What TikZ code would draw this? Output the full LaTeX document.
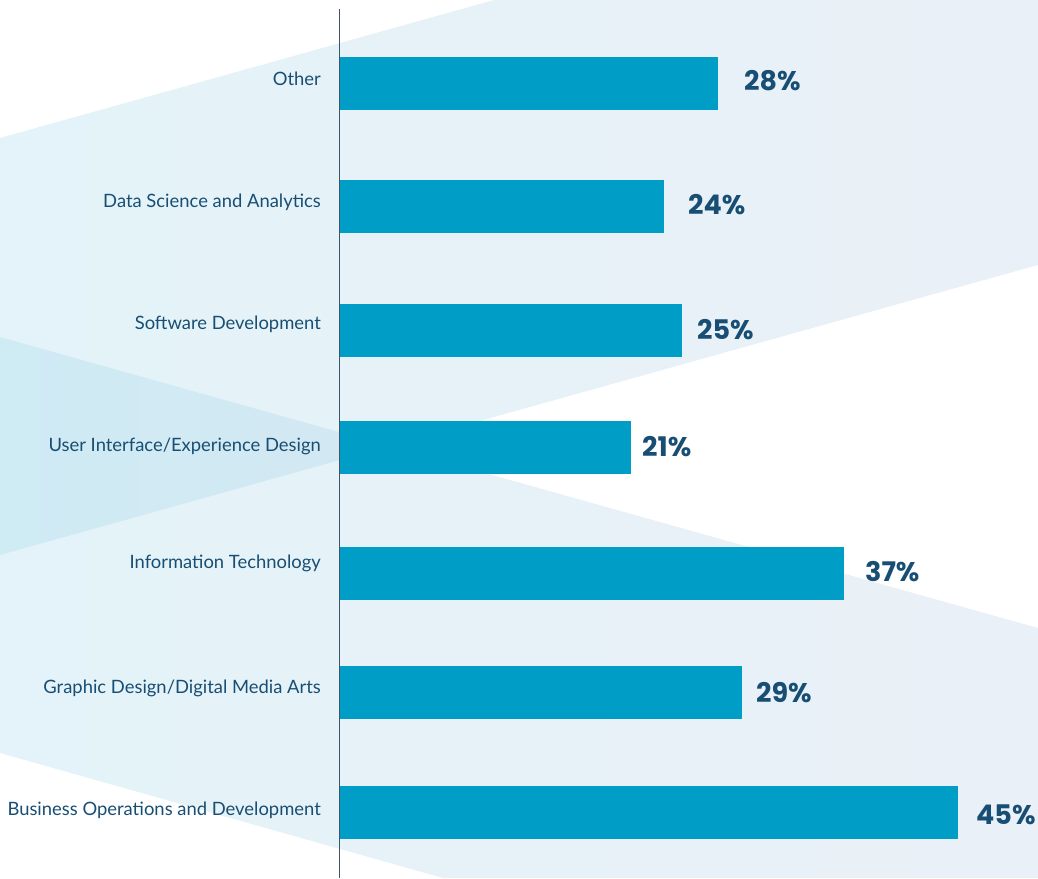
\documentclass[tikz,border=0pt]{standalone}
\usepackage{fontspec}
\setmainfont{Lato}
\newfontfamily\pctfont{Poppins}
\usetikzlibrary{positioning}

\definecolor{barblue}{RGB}{0,158,198}
\definecolor{inkblue}{RGB}{24,78,115}
\definecolor{axisgrey}{RGB}{62,84,104}
\definecolor{fanleft}{RGB}{148,210,230}
\definecolor{fanright}{RGB}{174,197,224}

\begin{document}
\begin{tikzpicture}[x=1pt,y=-1pt]
\path [use as bounding box] (0,0) rectangle (1038,878);
\tikzstyle{bar} = [fill=barblue, inner sep=0pt, outer sep=0pt, minimum height=53pt, anchor=west]
\tikzstyle{field} = [text=inkblue, font=\fontsize{18.4}{21}\selectfont, anchor=base east, inner sep=0pt]
\tikzstyle{share} = [text=inkblue, font=\pctfont\bfseries\fontsize{27}{32}\selectfont, anchor=base west, inner sep=0pt]
\tikzstyle{fan} = [left color=fanleft, right color=fanright, fill opacity=0.26, draw=none]

% the two pale fans behind the bars
\shade[fan] (0,138) -- (494,0) -- (1038,0) -- (1038,265) -- (0,555) -- cycle;
\shade[fan] (0,337) -- (1038,628) -- (1038,878) -- (443,878) -- (0,753) -- cycle;

\coordinate (top) at (339.5,9);
\coordinate (bottom) at (339.5,878);
\draw[axisgrey, line width=1pt] (top) -- (bottom);

\node[bar, minimum width=378pt] (other) at (340,83.5) {};
\node[bar, minimum width=324pt] (data) at (340,206.5) {};
\node[bar, minimum width=342pt] (soft) at (340,330.5) {};
\node[bar, minimum width=291pt] (uiux) at (340,447.5) {};
\node[bar, minimum width=504pt] (infotech) at (340,573.5) {};
\node[bar, minimum width=402pt] (graphic) at (340,692.5) {};
\node[bar, minimum width=618pt] (business) at (340,812.5) {};

\node[field] (otherlbl) at (321,85) {Other};
\node[field] (datalbl) at (321,207) {Data Science and Analytics};
\node[field] (softlbl) at (321,329) {Software Development};
\node[field] (uiuxlbl) at (321,451) {User Interface/Experience Design};
\node[field] (infotechlbl) at (321,568) {Information Technology};
\node[field] (graphiclbl) at (321,693) {Graphic Design/Digital Media Arts};
\node[field] (businesslbl) at (321,815) {Business Operations and Development};

\node[share] (otherpct) at (744,90.5) {28\%};
\node[share] (datapct) at (688,214) {24\%};
\node[share] (softpct) at (697,339) {25\%};
\node[share] (uiuxpct) at (642,456) {21\%};
\node[share] (infotechpct) at (865,581) {37\%};
\node[share] (graphicpct) at (756,702) {29\%};
\node[share] (businesspct) at (976,824) {45\%};
\end{tikzpicture}
\end{document}
